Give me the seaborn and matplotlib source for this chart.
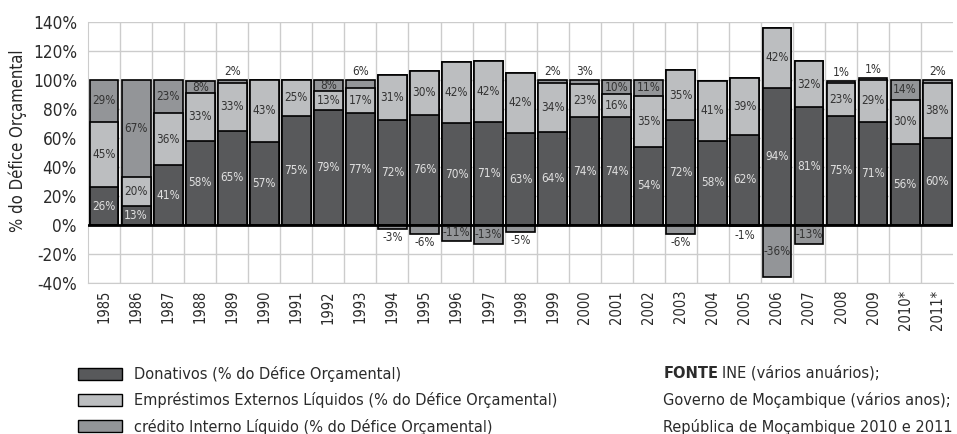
import numpy as np
import pandas as pd
import matplotlib
matplotlib.use("Agg")
import matplotlib.pyplot as plt
import seaborn as sns
from matplotlib.patches import Patch

# Data (% of budget deficit)
years = ['1985', '1986', '1987', '1988', '1989', '1990', '1991', '1992', '1993',
         '1994', '1995', '1996', '1997', '1998', '1999', '2000', '2001', '2002',
         '2003', '2004', '2005', '2006', '2007', '2008', '2009', '2010*', '2011*']
donativos = [26, 13, 41, 58, 65, 57, 75, 79, 77, 72, 76, 70, 71, 63, 64, 74, 74, 54,
             72, 58, 62, 94, 81, 75, 71, 56, 60]
emprestimos = [45, 20, 36, 33, 33, 43, 25, 13, 17, 31, 30, 42, 42, 42, 34, 23, 16, 35,
               35, 41, 39, 42, 32, 23, 29, 30, 38]
credito = [29, 67, 23, 8, 2, 0, 0, 8, 6, -3, -6, -11, -13, -5, 2, 3, 10, 11,
           -6, 0, -1, -36, -13, 1, 1, 14, 2]

c_don = '#58595b'
c_emp = '#bcbec0'
c_cred = '#939598'

sns.set_style('white')
plt.rcParams['font.family'] = ['DejaVu Sans']
plt.rcParams['font.stretch'] = 'condensed'
plt.rcParams['text.color'] = '#2b2b2b'
plt.rcParams['xtick.color'] = '#2b2b2b'
plt.rcParams['ytick.color'] = '#2b2b2b'

df = pd.DataFrame({'ano': years, 'don': donativos, 'emp': emprestimos, 'cred': credito})
df['pos_cred'] = df['cred'].clip(lower=0)
df['neg_cred'] = df['cred'].clip(upper=0)
df['top'] = df['don'] + df['emp'] + df['pos_cred']
df['mid'] = df['don'] + df['emp']

fig = plt.figure(figsize=(9.57, 4.34), dpi=100)
ax = fig.add_axes([0.092, 0.348, 0.904, 0.602])

# stacked bars: draw cumulative totals back to front
kw = dict(x='ano', width=0.9, edgecolor='black', linewidth=1.2, ax=ax, zorder=3)
sns.barplot(data=df, y='top', color=c_cred, saturation=1, **kw)
sns.barplot(data=df, y='mid', color=c_emp, saturation=1, **kw)
sns.barplot(data=df, y='don', color=c_don, saturation=1, **kw)
sns.barplot(data=df, y='neg_cred', color=c_cred, saturation=1, **kw)

fs = 8.5
for i, r in df.iterrows():
    ax.text(i, r['don'] / 2, f"{r['don']}%", ha='center', va='center',
            fontsize=fs, color='#e0e0e0', zorder=5)
    ax.text(i, r['don'] + r['emp'] / 2, f"{r['emp']}%", ha='center', va='center',
            fontsize=fs, color='#333333', zorder=5)
    c = r['cred']
    if c == 0:
        continue
    if c > 0:
        if c >= 8:
            ax.text(i, r['mid'] + c / 2, f"{c}%", ha='center', va='center',
                    fontsize=fs, color='#333333', zorder=5)
        else:
            ax.text(i, r['top'] + 1.5, f"{c}%", ha='center', va='bottom',
                    fontsize=fs, color='#333333', zorder=5)
    else:
        if c <= -10:
            ax.text(i, c / 2, f"{c}%", ha='center', va='center',
                    fontsize=fs, color='#333333', zorder=5)
        else:
            ax.text(i, c - 1.5, f"{c}%", ha='center', va='top',
                    fontsize=fs, color='#333333', zorder=5)

ax.set_ylim(-40, 140)
ax.set_xlim(-0.5, len(years) - 0.5)
ax.set_yticks(range(-40, 141, 20))
ax.set_yticklabels([f"{v}%" for v in range(-40, 141, 20)], fontsize=12.3)
ax.set_xticks(range(len(years)))
ax.set_xticklabels(years, rotation=90, fontsize=10.5)
ax.set_xticks(np.arange(0.5, len(years) - 0.5, 1), minor=True)
ax.tick_params(axis='y', length=0, pad=8)
ax.tick_params(axis='x', length=0, pad=5)
ax.tick_params(axis='x', which='minor', length=0)
ax.grid(axis='y', color='#cccccc', linewidth=1, zorder=0)
ax.grid(axis='x', which='minor', color='#cccccc', linewidth=1, zorder=0)
ax.axhline(0, color='black', linewidth=2, zorder=4)
for s in ['top', 'right']:
    ax.spines[s].set_visible(False)
ax.spines['left'].set_color('#cccccc')
ax.spines['bottom'].set_color('#cccccc')
ax.set_xlabel('')
ax.set_ylabel('% do Défice Orçamental', fontsize=12)
ax.yaxis.set_label_coords(-0.07, 0.545)

handles = [Patch(facecolor=c_don, edgecolor='black'),
           Patch(facecolor=c_emp, edgecolor='black'),
           Patch(facecolor=c_cred, edgecolor='black')]
labels = ['Donativos (% do Défice Orçamental)',
          'Empréstimos Externos Líquidos (% do Défice Orçamental)',
          'crédito Interno Líquido (% do Défice Orçamental)']
fig.legend(handles, labels, loc='upper left', bbox_to_anchor=(0.07, 1 - 355 / 434),
           frameon=False, fontsize=11.7, handlelength=2.7, handleheight=0.75,
           labelspacing=0.62, handletextpad=0.7, borderpad=0.2)

fs_src = 11.7
t = fig.text(0.693, 1 - 373 / 434, 'FONTE', fontsize=fs_src, fontweight='bold',
             ha='left', va='center')
fig.canvas.draw()
bb = t.get_window_extent().transformed(fig.transFigure.inverted())
fig.text(bb.x1 + 0.004, 1 - 373 / 434, 'INE (vários anuários);', fontsize=fs_src,
         ha='left', va='center')
fig.text(0.693, 1 - 400 / 434, 'Governo de Moçambique (vários anos);', fontsize=fs_src,
         ha='left', va='center')
fig.text(0.693, 1 - 427 / 434, 'República de Moçambique 2010 e 2011', fontsize=fs_src,
         ha='left', va='center')

fig.savefig('out.png', dpi=100)
